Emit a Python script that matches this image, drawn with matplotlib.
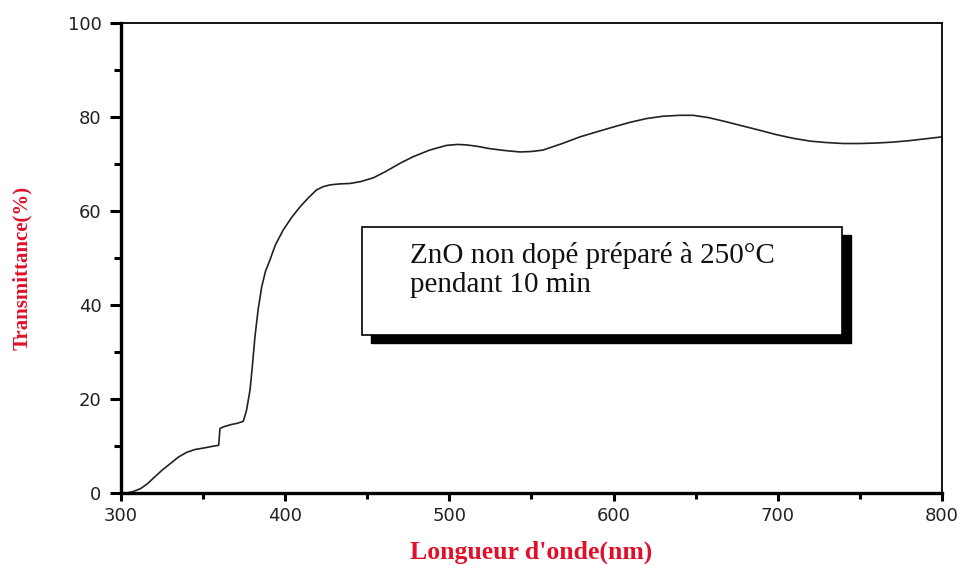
import matplotlib
matplotlib.use("Agg")
import matplotlib.pyplot as plt
from matplotlib.patches import Rectangle

wavelength = [300, 303, 307, 312, 316, 320, 325, 330, 335, 340, 345, 350, 356, 359.5, 360.3, 363,
              367, 371, 374.5, 376.5, 378.6, 380, 381.6, 383.5, 385.7, 388, 390.7, 394, 398.8, 404,
              409, 414, 419, 423, 427.3, 433, 439.5, 446, 453.7, 461, 470, 478, 488, 498.3, 505,
              510.5, 517, 524.7, 534, 543, 550, 557, 568, 579.5, 590, 599.8, 610, 620, 630, 640.4,
              648.5, 658, 668.9, 679, 689.2, 699, 709.5, 720, 729.8, 740, 750, 760, 770.4, 780, 790,
              799.8]
transmittance = [0.0, 0.05, 0.3, 1.0, 2.0, 3.3, 4.9, 6.3, 7.7, 8.7, 9.3, 9.6, 10.0, 10.2, 13.8, 14.2,
                 14.6, 14.9, 15.3, 17.7, 22.0, 27.0, 33.3, 39.0, 43.9, 47.2, 49.6, 52.8, 56.0, 58.7,
                 60.9, 62.8, 64.5, 65.2, 65.6, 65.8, 65.9, 66.3, 67.1, 68.4, 70.2, 71.6, 73.0, 74.0,
                 74.2, 74.1, 73.8, 73.3, 72.9, 72.6, 72.7, 73.0, 74.3, 75.8, 76.9, 77.9, 78.9, 79.7,
                 80.2, 80.4, 80.4, 79.9, 79.0, 78.1, 77.2, 76.3, 75.5, 74.9, 74.6, 74.4, 74.4, 74.5,
                 74.7, 75.0, 75.4, 75.8]

x_ticks = [300, 400, 500, 600, 700, 800]
y_ticks = [0, 20, 40, 60, 80, 100]
x_label = "Longueur d'onde(nm)"
y_label = "Transmittance(%)"
box_text = "ZnO non dopé préparé à 250°C\npendant 10 min"

fig = plt.figure(figsize=(9.68, 5.65), dpi=100)
ax = fig.add_axes([0.125, 0.127, 0.848, 0.832])

ax.plot(wavelength, transmittance, color="#222222", linewidth=1.2)

ax.set_xlim(300, 800)
ax.set_ylim(0, 100)
ax.set_xticks(x_ticks)
ax.set_yticks(y_ticks)
ax.set_xticks([350, 450, 550, 650, 750], minor=True)
ax.set_yticks([10, 30, 50, 70, 90], minor=True)

for s in ["left", "bottom"]:
    ax.spines[s].set_linewidth(2.4)
for s in ["top", "right"]:
    ax.spines[s].set_linewidth(1.3)

ax.tick_params(axis="y", which="major", direction="out", length=8, width=2.2, pad=6)
ax.tick_params(axis="y", which="minor", direction="out", length=5, width=2.2)
ax.tick_params(axis="x", which="major", direction="out", length=6, width=2.2, pad=4)
ax.tick_params(axis="x", which="minor", direction="out", length=4, width=2.2)
ax.tick_params(which="both", top=False, right=False, labelsize=13, labelcolor="#222222")
for lab in ax.get_xticklabels() + ax.get_yticklabels():
    lab.set_fontfamily("DejaVu Sans")

ax.set_xlabel(x_label, fontsize=18.5, fontweight="bold", color="#e0102a",
              fontfamily="Liberation Serif")
ax.xaxis.set_label_coords(0.5, -0.1)
ax.set_ylabel(y_label, fontsize=15, fontweight="bold", color="#e0102a",
              fontfamily="Liberation Serif")
ax.yaxis.set_label_coords(-0.108, 0.479)

# text box with shadow
bx0, by0, bw, bh = 0.2935, 0.336, 0.585, 0.23
shadow = Rectangle((bx0 + 0.0105, by0 - 0.017), bw, bh, transform=ax.transAxes,
                   facecolor="black", edgecolor="black", zorder=3)
box = Rectangle((bx0, by0), bw, bh, transform=ax.transAxes,
                facecolor="white", edgecolor="black", linewidth=1.2, zorder=4)
ax.add_patch(shadow)
ax.add_patch(box)
ax.text(bx0 + 0.058, by0 + bh - 0.032, box_text, transform=ax.transAxes,
        fontsize=21, fontfamily="Liberation Serif", color="#111111",
        va="top", ha="left", linespacing=1.16, zorder=5)

fig.savefig("out.png", dpi=100)
